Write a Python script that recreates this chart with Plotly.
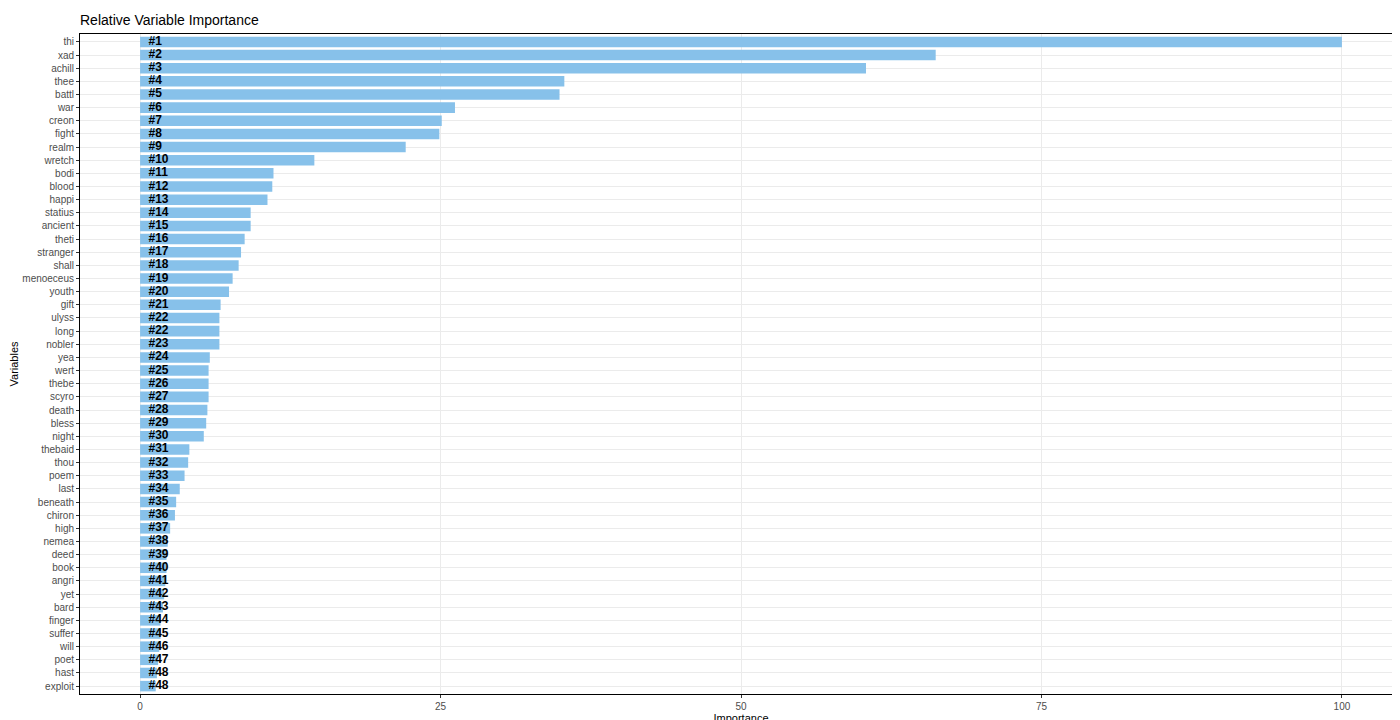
import plotly.graph_objects as go

variables = ['thi', 'xad', 'achill', 'thee', 'battl', 'war', 'creon', 'fight', 'realm', 'wretch',
             'bodi', 'blood', 'happi', 'statius', 'ancient', 'theti', 'stranger', 'shall', 'menoeceus', 'youth',
             'gift', 'ulyss', 'long', 'nobler', 'yea', 'wert', 'thebe', 'scyro', 'death', 'bless',
             'night', 'thebaid', 'thou', 'poem', 'last', 'beneath', 'chiron', 'high', 'nemea', 'deed',
             'book', 'angri', 'yet', 'bard', 'finger', 'suffer', 'will', 'poet', 'hast', 'exploit']
importance = [100, 66.2, 60.4, 35.3, 34.9, 26.2, 25.1, 24.9, 22.1, 14.5,
              11.1, 11.0, 10.6, 9.2, 9.2, 8.7, 8.4, 8.2, 7.7, 7.4,
              6.7, 6.6, 6.6, 6.6, 5.8, 5.7, 5.7, 5.7, 5.6, 5.5,
              5.3, 4.1, 4.0, 3.7, 3.3, 3.0, 2.9, 2.5, 2.3, 2.2,
              2.2, 2.1, 2.0, 1.9, 1.7, 1.7, 1.6, 1.5, 1.4, 1.3]
ranks = ['#1', '#2', '#3', '#4', '#5', '#6', '#7', '#8', '#9', '#10',
         '#11', '#12', '#13', '#14', '#15', '#16', '#17', '#18', '#19', '#20',
         '#21', '#22', '#22', '#23', '#24', '#25', '#26', '#27', '#28', '#29',
         '#30', '#31', '#32', '#33', '#34', '#35', '#36', '#37', '#38', '#39',
         '#40', '#41', '#42', '#43', '#44', '#45', '#46', '#47', '#48', '#48']

fig = go.Figure()
fig.add_trace(go.Bar(
    x=importance, y=variables, orientation='h',
    marker=dict(color='#87c1ea', line=dict(width=0)),
    width=0.8, showlegend=False,
))
fig.add_trace(go.Scatter(
    x=[0.7] * len(variables), y=variables, mode='text', text=ranks,
    textposition='middle right',
    textfont=dict(family='Arial, Liberation Sans', size=12, color='black', weight='bold'),
    showlegend=False,
))

axis_common = dict(showgrid=True, gridcolor='#ebebeb', gridwidth=1, zeroline=False,
                   showline=True, linecolor='black', linewidth=1, mirror=True,
                   ticks='outside', ticklen=3, tickcolor='#333', automargin=False,
                   tickfont=dict(size=10, color='#4d4d4d'))
fig.update_layout(
    width=1400, height=720,
    plot_bgcolor='white', paper_bgcolor='white',
    font=dict(family='Arial, Liberation Sans'),
    title=dict(text='Relative Variable Importance', x=72 / 1400, xanchor='left',
               y=0.983, yanchor='middle', font=dict(size=14, color='black')),
    margin=dict(l=72, r=6, t=26, b=34),
    bargap=0.2,
)
fig.update_xaxes(range=[-5, 105], tickvals=[0, 25, 50, 75, 100],
                 title=dict(text='Importance', font=dict(size=11, color='black'), standoff=2),
                 **axis_common)
fig.update_yaxes(categoryorder='array', categoryarray=variables[::-1],
                 range=[-0.6, len(variables) - 0.4],
                 title=dict(text='Variables', font=dict(size=11, color='black'), standoff=4),
                 **axis_common)
fig.write_html('out.html')
